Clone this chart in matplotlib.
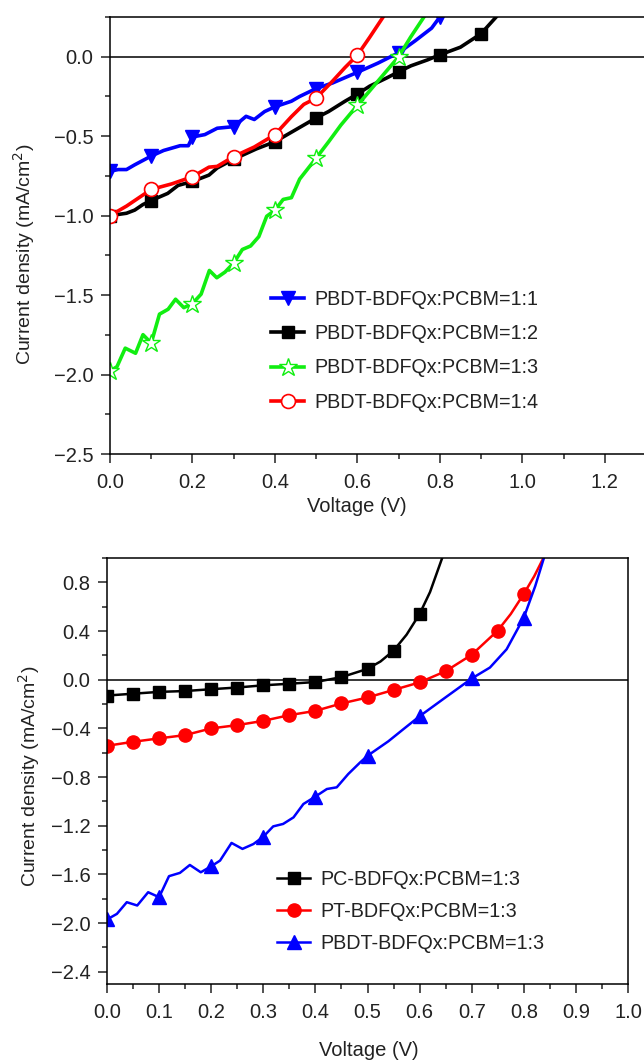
"""J-V curves of BDFQx polymer:PCBM blends (two panels)."""

import matplotlib
matplotlib.use("Agg")
import matplotlib.pyplot as plt
import numpy as np
from matplotlib.ticker import MultipleLocator, FixedLocator

plt.rcParams["font.family"] = ["Liberation Sans", "DejaVu Sans"]

# top panel: PBDT-BDFQx:PCBM ratios
r11_v = [0.0, 0.02, 0.04, 0.06, 0.1, 0.13, 0.17, 0.19, 0.2, 0.23, 0.26, 0.3, 0.33, 0.35, 0.375,
         0.4, 0.44, 0.46, 0.5, 0.54, 0.6, 0.65, 0.7, 0.74, 0.78, 0.8]
r11_j = [-0.72, -0.71, -0.71, -0.68, -0.625, -0.59, -0.56, -0.56, -0.505, -0.49, -0.45, -0.44, -0.375,
         -0.395, -0.345, -0.315, -0.28, -0.25, -0.20, -0.165, -0.098, -0.04, 0.025, 0.10, 0.18, 0.25]
r12_v = [0.0, 0.04, 0.06, 0.08, 0.1, 0.14, 0.165, 0.2, 0.24, 0.26, 0.3, 0.355, 0.4, 0.45, 0.5, 0.53,
         0.57, 0.6, 0.63, 0.67, 0.7, 0.73, 0.77, 0.8, 0.85, 0.9, 0.94]
r12_j = [-1.0, -0.985, -0.965, -0.93, -0.905, -0.86, -0.81, -0.785, -0.745, -0.70, -0.645, -0.58,
         -0.535, -0.46, -0.385, -0.345, -0.28, -0.235, -0.185, -0.135, -0.095, -0.057, -0.02, 0.012,
         0.06, 0.145, 0.26]
r13_v = [0.0, 0.017, 0.037, 0.062, 0.08, 0.1, 0.12, 0.141, 0.159, 0.179, 0.2, 0.221, 0.241, 0.259,
         0.279, 0.3, 0.321, 0.341, 0.361, 0.38, 0.4, 0.42, 0.44, 0.46, 0.5, 0.53, 0.56, 0.6, 0.65,
         0.7, 0.729, 0.764]
r13_j = [-1.979, -1.95, -1.834, -1.866, -1.749, -1.802, -1.62, -1.589, -1.526, -1.579, -1.553, -1.494,
         -1.345, -1.391, -1.355, -1.298, -1.213, -1.191, -1.132, -1.004, -0.966, -0.898, -0.887, -0.77,
         -0.638, -0.536, -0.43, -0.306, -0.153, 0.0, 0.123, 0.26]
r14_v = [0.0, 0.04, 0.1, 0.15, 0.2, 0.24, 0.26, 0.3, 0.35, 0.4, 0.44, 0.47, 0.5, 0.54, 0.57, 0.6,
         0.63, 0.665]
r14_j = [-1.0, -0.94, -0.835, -0.80, -0.755, -0.695, -0.69, -0.628, -0.568, -0.49, -0.377, -0.30,
         -0.26, -0.153, -0.068, 0.01, 0.123, 0.26]

# bottom panel: donor polymers at 1:3
pc_v = [0.0, 0.05, 0.1, 0.15, 0.2, 0.25, 0.3, 0.35, 0.4, 0.45, 0.5, 0.525, 0.55, 0.575, 0.6, 0.62, 0.645]
pc_j = [-0.13, -0.115, -0.10, -0.093, -0.078, -0.064, -0.046, -0.033, -0.019, 0.021, 0.089, 0.15,
        0.239, 0.37, 0.54, 0.72, 1.02]
pt_v = [0.0, 0.05, 0.1, 0.15, 0.2, 0.25, 0.3, 0.35, 0.4, 0.45, 0.5, 0.55, 0.6, 0.65, 0.7, 0.75,
        0.775, 0.8, 0.82, 0.84]
pt_j = [-0.543, -0.51, -0.482, -0.455, -0.40, -0.373, -0.338, -0.291, -0.256, -0.195, -0.146, -0.084,
        -0.022, 0.07, 0.205, 0.404, 0.54, 0.705, 0.85, 1.02]
pb_v = [0.0, 0.019, 0.038, 0.058, 0.079, 0.1, 0.119, 0.14, 0.159, 0.18, 0.2, 0.217, 0.239, 0.26,
        0.281, 0.3, 0.319, 0.338, 0.358, 0.377, 0.4, 0.422, 0.441, 0.463, 0.486, 0.5, 0.54, 0.569,
        0.6, 0.645, 0.7, 0.735, 0.767, 0.8, 0.822, 0.84]
pb_j = [-1.97, -1.924, -1.828, -1.855, -1.746, -1.787, -1.614, -1.587, -1.522, -1.582, -1.533, -1.486,
        -1.341, -1.39, -1.35, -1.29, -1.205, -1.185, -1.131, -1.021, -0.96, -0.898, -0.884, -0.775,
        -0.679, -0.625, -0.506, -0.406, -0.30, -0.16, 0.01, 0.10, 0.25, 0.51, 0.77, 1.02]

top_labels = ["PBDT-BDFQx:PCBM=1:1", "PBDT-BDFQx:PCBM=1:2", "PBDT-BDFQx:PCBM=1:3", "PBDT-BDFQx:PCBM=1:4"]
bottom_labels = ["PC-BDFQx:PCBM=1:3", "PT-BDFQx:PCBM=1:3", "PBDT-BDFQx:PCBM=1:3"]
top_xticks = [0.0, 0.2, 0.4, 0.6, 0.8, 1.0, 1.2]
top_yticks = [0.0, -0.5, -1.0, -1.5, -2.0, -2.5]
bottom_xticks = [0.0, 0.1, 0.2, 0.3, 0.4, 0.5, 0.6, 0.7, 0.8, 0.9, 1.0]
bottom_yticks = [0.8, 0.4, 0.0, -0.4, -0.8, -1.2, -1.6, -2.0, -2.4]

TEXT = "#222222"


def marks(v, step, vmax):
    v = np.asarray(v)
    k = np.round(v / step)
    return list(np.isclose(v, k * step, atol=1e-6) & (v <= vmax + 1e-9))


def fmt(value, pos):
    text = "{:.1f}".format(value + 0.0)
    return "0.0" if text == "-0.0" else text.replace("-", "\u2212")


def style(axis):
    for spine in axis.spines.values():
        spine.set_linewidth(1.1)
    axis.tick_params(which="both", direction="out", width=1.1, colors="#222222", labelsize=14.5)
    axis.tick_params(axis="x", which="major", length=6.5, pad=7)
    axis.tick_params(axis="y", which="major", length=6.5, pad=5.5)
    axis.tick_params(which="minor", length=3.6)
    axis.xaxis.set_major_formatter(fmt)
    axis.yaxis.set_major_formatter(fmt)
    axis.axhline(0, color="black", lw=1.1, zorder=1)


fig = plt.figure(figsize=(6.44, 10.62), dpi=100)

top = fig.add_axes([110 / 644, 608 / 1062, 536 / 644, 437 / 1062])
style(top)
top.spines["right"].set_visible(False)
top.plot(r11_v, r11_j, color="#0000ff", lw=2.6, marker="v", ms=10.5, markevery=marks(r11_v, 0.1, 0.8),
         label=top_labels[0])
top.plot(r12_v, r12_j, color="black", lw=2.6, marker="s", ms=9, markevery=marks(r12_v, 0.1, 0.9),
         label=top_labels[1])
top.plot(r13_v, r13_j, color="#11ee11", lw=2.6, marker="*", ms=13.5, mfc="white", mec="#11ee11", mew=1.0,
         markevery=marks(r13_v, 0.1, 0.7), label=top_labels[2])
top.plot(r14_v, r14_j, color="#ff0000", lw=2.6, marker="o", ms=10, mfc="white", mec="#ff0000", mew=1.2,
         markevery=marks(r14_v, 0.1, 0.6), label=top_labels[3])
top.set_xlim(0, 1.3)
top.set_ylim(-2.5, 0.25)
top.xaxis.set_major_locator(FixedLocator(top_xticks))
top.xaxis.set_minor_locator(MultipleLocator(0.1))
top.yaxis.set_major_locator(FixedLocator(top_yticks))
top.yaxis.set_minor_locator(MultipleLocator(0.25))
top.set_xlabel("Voltage (V)", fontsize=14.5, color=TEXT)
top.set_ylabel("Current density (mA/cm$^2$)", fontsize=14, color=TEXT)
top.xaxis.set_label_coords(0.46, -0.098)
top.yaxis.set_label_coords(-0.136, 0.458)
top.legend(loc="upper left", bbox_to_anchor=(0.30, 0.375), frameon=False, fontsize=14.2,
           handlelength=1.7, handletextpad=0.5, labelspacing=0.77, borderpad=0, borderaxespad=0,
           labelcolor=TEXT)

bot = fig.add_axes([107 / 644, 78 / 1062, 521 / 644, 426 / 1062])
style(bot)
bot.plot(pc_v, pc_j, color="black", lw=1.8, marker="s", ms=8.5, markevery=marks(pc_v, 0.05, 0.6),
         label=bottom_labels[0])
bot.plot(pt_v, pt_j, color="#ff0000", lw=1.8, marker="o", ms=9.5, markevery=marks(pt_v, 0.05, 0.8),
         label=bottom_labels[1])
bot.plot(pb_v, pb_j, color="#0000ff", lw=1.8, marker="^", ms=10.5, markevery=marks(pb_v, 0.1, 0.8),
         label=bottom_labels[2])
bot.set_xlim(0, 1.0)
bot.set_ylim(-2.5, 1.0)
bot.xaxis.set_major_locator(FixedLocator(bottom_xticks))
bot.xaxis.set_minor_locator(MultipleLocator(0.05))
bot.yaxis.set_major_locator(FixedLocator(bottom_yticks))
bot.yaxis.set_minor_locator(MultipleLocator(0.2))
bot.set_xlabel("Voltage (V)", fontsize=14.5, color=TEXT)
bot.set_ylabel("Current density (mA/cm$^2$)", fontsize=14, color=TEXT)
bot.xaxis.set_label_coords(0.502, -0.133)
bot.yaxis.set_label_coords(-0.124, 0.488)
bot.legend(loc="upper left", bbox_to_anchor=(0.326, 0.268), frameon=False, fontsize=14.2,
           handlelength=1.7, handletextpad=0.5, labelspacing=0.66, borderpad=0, borderaxespad=0,
           labelcolor=TEXT)

fig.savefig("out.png", dpi=100)
